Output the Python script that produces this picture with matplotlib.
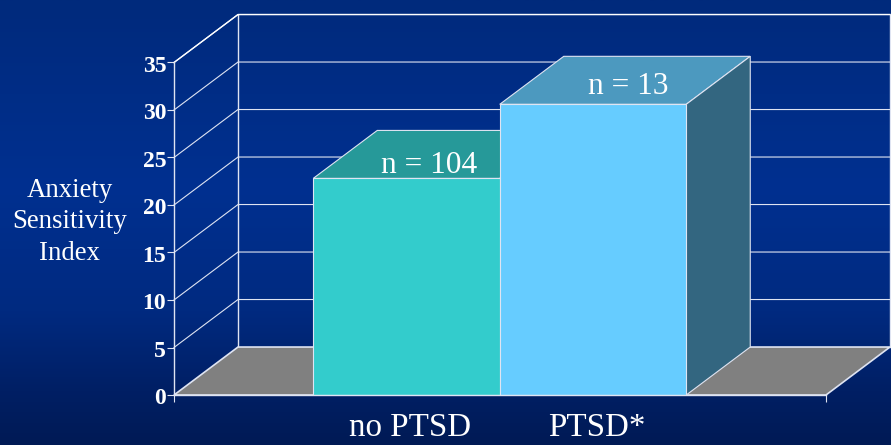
#!/usr/bin/env python3
# Anxiety sensitivity by PTSD status, as a 3D-look bar chart on a slide background

import numpy as np
import matplotlib
matplotlib.use('Agg')
import matplotlib.pyplot as plt
from matplotlib.colors import LinearSegmentedColormap
from matplotlib.transforms import ScaledTranslation

groups = ['no PTSD', 'PTSD*']
scores = [22.8, 30.6]
counts = ['n = 104', 'n = 13']
yticks = [0, 5, 10, 15, 20, 25, 30, 35]
ylabel_lines = ['Anxiety', 'Sensitivity', 'Index']

W, H = 891, 445
LINE = '#dfe4f2'
FRONT = ['#33cccc', '#66ccff']
TOP = ['#269999', '#4c99bf']
SIDE = ['#1a6666', '#336680']

plt.rcParams['font.family'] = ['Liberation Serif', 'DejaVu Serif']

fig = plt.figure(figsize=(W / 100, H / 100), dpi=100)

# slide background, vertical gradient
bg = fig.add_axes([0, 0, 1, 1], zorder=0)
cmap = LinearSegmentedColormap.from_list('slide', [
    (0.0, '#002a7c'), (0.42, '#003090'), (0.7, '#002a80'), (0.88, '#001f64'), (1.0, '#001a55')])
bg.imshow(np.linspace(0, 1, 256).reshape(-1, 1), cmap=cmap, aspect='auto', vmin=0, vmax=1)
bg.axis('off')

# front plane of the chart box, pixel positions converted to figure fractions
left, right, y0_px, y35_px = 174, 826, 395, 62.5
ax = fig.add_axes([left / W, 1 - y0_px / H, (right - left) / W, (y0_px - y35_px) / H], zorder=1)
ax.patch.set_visible(False)

bar_w = 186.5
xlim = ((left - 406.5) / bar_w, (right - 406.5) / bar_w)
ax.set_xlim(xlim)
ax.set_ylim(0, 35)
dx, dy = 64 / bar_w, 5.05   # depth of the box

xl, xr = xlim
ytop = yticks[-1]

# floor
ax.fill([xl, xl + dx, xr + dx, xr], [0, dy, dy, 0], fc='#808080', ec=LINE, lw=1.2,
        clip_on=False, zorder=2)

# walls and grid
for v in yticks[1:]:
    ax.plot([xl, xl + dx, xr + dx], [v, v + dy, v + dy], color=LINE, lw=0.8,
            clip_on=False, zorder=1.5)
ax.plot([xl + dx, xl + dx], [dy, ytop + dy], color=LINE, lw=1.0, clip_on=False, zorder=1.6)
ax.plot([xr + dx, xr + dx], [dy, ytop + dy], color=LINE, lw=1.0, clip_on=False, zorder=1.6)
ax.plot([xl, xl + dx, xr + dx], [ytop, ytop + dy, ytop + dy], color='white', lw=1.0,
        clip_on=False, zorder=1.6)

# bars: top and side faces first, then the front face
for i, val in enumerate(scores):
    z = 3 + i
    a, b = i - 0.5, i + 0.5
    ax.fill([a, a + dx, b + dx, b], [val, val + dy, val + dy, val], fc=TOP[i], ec=LINE,
            lw=0.8, clip_on=False, zorder=z)
    ax.fill([b, b + dx, b + dx, b], [0, dy, val + dy, val], fc=SIDE[i], ec=LINE,
            lw=0.8, clip_on=False, zorder=z)
    ax.bar(i, val, width=1.0, color=FRONT[i], edgecolor=LINE, linewidth=0.8, zorder=z + 0.1)

# count labels sit on the top faces
ax.text(0 + 0.12, scores[0] + 0.55, counts[0], color='white', fontsize=22.6, ha='center',
        va='baseline', zorder=6)
ax.text(1 + 0.19, scores[1] + 1.1, counts[1], color='white', fontsize=22.6, ha='center',
        va='baseline', zorder=6)

# axes
for s in ['top', 'right']:
    ax.spines[s].set_visible(False)
for s in ['left', 'bottom']:
    ax.spines[s].set_color(LINE)
    ax.spines[s].set_linewidth(1.0)
    ax.spines[s].set_zorder(7)
ax.set_yticks(yticks)
ax.set_yticklabels([str(v) for v in yticks], fontsize=17, fontweight='bold', color='white')
ax.tick_params(axis='y', length=5, width=0.8, color=LINE, pad=0.6)
nudge = ScaledTranslation(0, -1 / 72, fig.dpi_scale_trans)
for lab in ax.get_yticklabels():
    lab.set_transform(lab.get_transform() + nudge)
ax.set_xticks(xlim)
ax.set_xticklabels(['', ''])
ax.tick_params(axis='x', length=5, width=0.8, color=LINE)

# group names below the axis
for i, name in enumerate(groups):
    ax.annotate(name, xy=(i, 0), xytext=(4, -41), textcoords='offset pixels', color='white',
                fontsize=23.8, ha='center', va='baseline', annotation_clip=False)

for j, line in enumerate(ylabel_lines):
    fig.text(69.5 / W, 1 - (197 + j * 31.5) / H, line, color='white', fontsize=19.3,
             ha='center', va='baseline')

fig.savefig('out.png', dpi=100)
